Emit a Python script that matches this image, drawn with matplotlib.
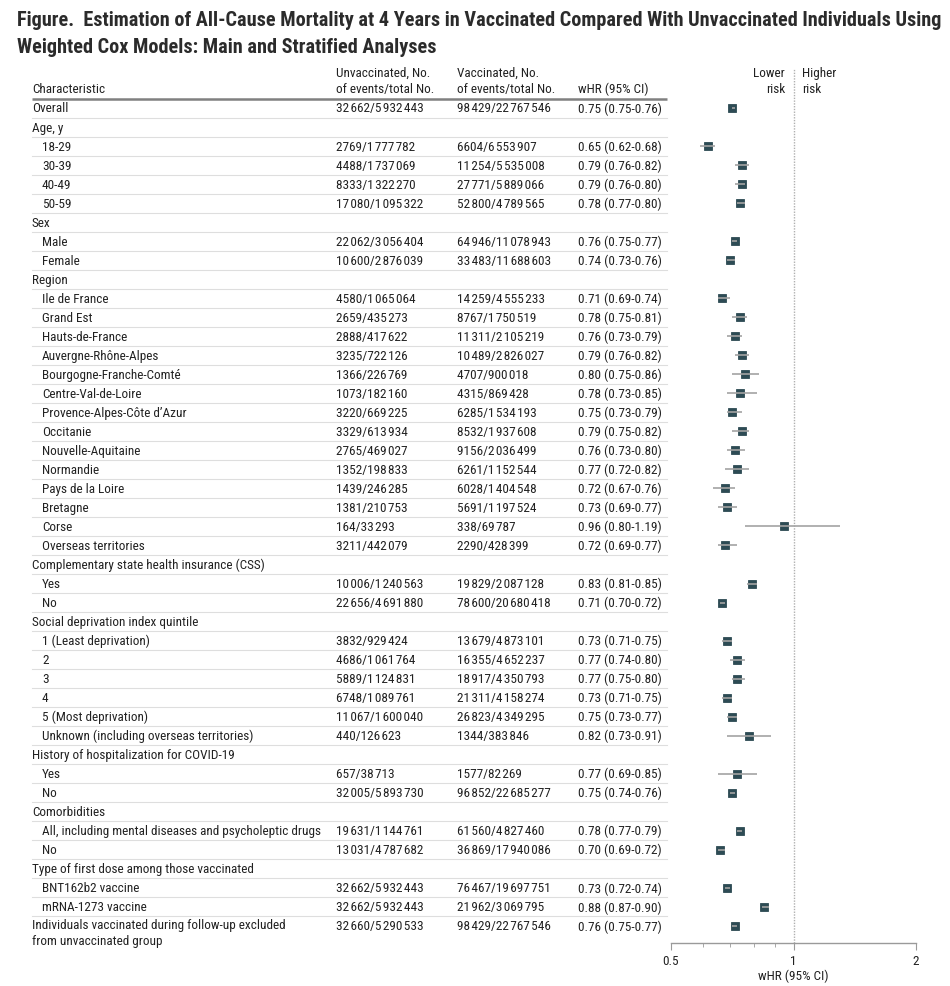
import matplotlib
matplotlib.use("Agg")
import matplotlib.pyplot as plt
import matplotlib.transforms as mtransforms
from matplotlib import font_manager
from matplotlib.ticker import FixedLocator, NullFormatter

# ---- data -------------------------------------------------------------
labels = [
    "Overall", "Age, y", "18-29", "30-39", "40-49", "50-59",
    "Sex", "Male", "Female",
    "Region", "Ile de France", "Grand Est", "Hauts-de-France", "Auvergne-Rhône-Alpes",
    "Bourgogne-Franche-Comté", "Centre-Val-de-Loire", "Provence-Alpes-Côte d’Azur",
    "Occitanie", "Nouvelle-Aquitaine", "Normandie", "Pays de la Loire", "Bretagne",
    "Corse", "Overseas territories",
    "Complementary state health insurance (CSS)", "Yes", "No",
    "Social deprivation index quintile", "1 (Least deprivation)", "2", "3", "4",
    "5 (Most deprivation)", "Unknown (including overseas territories)",
    "History of hospitalization for COVID-19", "Yes", "No",
    "Comorbidities", "All, including mental diseases and psycholeptic drugs", "No",
    "Type of first dose among those vaccinated", "BNT162b2 vaccine", "mRNA-1273 vaccine",
    "Individuals vaccinated during follow-up excluded\nfrom unvaccinated group",
]
indented = [
    0, 0, 1, 1, 1, 1,
    0, 1, 1,
    0, 1, 1, 1, 1, 1, 1, 1, 1, 1, 1, 1, 1, 1, 1,
    0, 1, 1,
    0, 1, 1, 1, 1, 1, 1,
    0, 1, 1,
    0, 1, 1,
    0, 1, 1,
    0,
]
N = None
unvacc_events = [32662, N, 2769, 4488, 8333, 17080, N, 22062, 10600,
                 N, 4580, 2659, 2888, 3235, 1366, 1073, 3220, 3329, 2765, 1352, 1439, 1381, 164, 3211,
                 N, 10006, 22656, N, 3832, 4686, 5889, 6748, 11067, 440,
                 N, 657, 32005, N, 19631, 13031, N, 32662, 32662, 32660]
unvacc_total = [5932443, N, 1777782, 1737069, 1322270, 1095322, N, 3056404, 2876039,
                N, 1065064, 435273, 417622, 722126, 226769, 182160, 669225, 613934, 469027, 198833,
                246285, 210753, 33293, 442079,
                N, 1240563, 4691880, N, 929424, 1061764, 1124831, 1089761, 1600040, 126623,
                N, 38713, 5893730, N, 1144761, 4787682, N, 5932443, 5932443, 5290533]
vacc_events = [98429, N, 6604, 11254, 27771, 52800, N, 64946, 33483,
               N, 14259, 8767, 11311, 10489, 4707, 4315, 6285, 8532, 9156, 6261, 6028, 5691, 338, 2290,
               N, 19829, 78600, N, 13679, 16355, 18917, 21311, 26823, 1344,
               N, 1577, 96852, N, 61560, 36869, N, 76467, 21962, 98429]
vacc_total = [22767546, N, 6553907, 5535008, 5889066, 4789565, N, 11078943, 11688603,
              N, 4555233, 1750519, 2105219, 2826027, 900018, 869428, 1534193, 1937608, 2036499,
              1152544, 1404548, 1197524, 69787, 428399,
              N, 2087128, 20680418, N, 4873101, 4652237, 4350793, 4158274, 4349295, 383846,
              N, 82269, 22685277, N, 4827460, 17940086, N, 19697751, 3069795, 22767546]
hr = [0.75, N, 0.65, 0.79, 0.79, 0.78, N, 0.76, 0.74,
      N, 0.71, 0.78, 0.76, 0.79, 0.80, 0.78, 0.75, 0.79, 0.76, 0.77, 0.72, 0.73, 0.96, 0.72,
      N, 0.83, 0.71, N, 0.73, 0.77, 0.77, 0.73, 0.75, 0.82,
      N, 0.77, 0.75, N, 0.78, 0.70, N, 0.73, 0.88, 0.76]
ci_low = [0.75, N, 0.62, 0.76, 0.76, 0.77, N, 0.75, 0.73,
          N, 0.69, 0.75, 0.73, 0.76, 0.75, 0.73, 0.73, 0.75, 0.73, 0.72, 0.67, 0.69, 0.80, 0.69,
          N, 0.81, 0.70, N, 0.71, 0.74, 0.75, 0.71, 0.73, 0.73,
          N, 0.69, 0.74, N, 0.77, 0.69, N, 0.72, 0.87, 0.75]
ci_high = [0.76, N, 0.68, 0.82, 0.80, 0.80, N, 0.77, 0.76,
           N, 0.74, 0.81, 0.79, 0.82, 0.86, 0.85, 0.79, 0.82, 0.80, 0.82, 0.76, 0.77, 1.19, 0.77,
           N, 0.85, 0.72, N, 0.75, 0.80, 0.80, 0.75, 0.77, 0.91,
           N, 0.85, 0.76, N, 0.79, 0.72, N, 0.74, 0.90, 0.77]

col_headers = ["Characteristic", "Unvaccinated, No.\nof events/total No.",
               "Vaccinated, No.\nof events/total No.", "wHR (95% CI)"]
title = ("Figure.  Estimation of All-Cause Mortality at 4 Years in Vaccinated Compared With "
         "Unvaccinated Individuals Using\nWeighted Cox Models: Main and Stratified Analyses")

# ---- font -------------------------------------------------------------
avail = {f.name for f in font_manager.fontManager.ttflist}
narrow = None
for cand in ["Roboto Condensed", "Liberation Sans Narrow", "Open Sans Condensed",
             "Noto Sans Condensed", "DejaVu Sans Condensed"]:
    if cand in avail:
        narrow = cand
        break
families = ([narrow] if narrow else []) + ["Liberation Sans", "DejaVu Sans"]
plt.rcParams["font.family"] = families

TXT = "#222222"
MARK = "#2d4b54"
FS = 9.5


def fmt(n):
    # small gaps between digit groups, as in the journal figure
    s = str(n)
    if n < 10000:
        return s
    parts = []
    while len(s) > 3:
        parts.insert(0, s[-3:])
        s = s[:-3]
    parts.insert(0, s)
    return "\u200a".join(parts)


W, H = 950, 987
fig = plt.figure(figsize=(W / 100, H / 100), dpi=100)

# forest axes: pixel box x 671..916, y 100..944
ax_l, ax_r, ax_t, ax_b = 671, 916, 100, 944
row0, pitch = 109, 19.02
ax = fig.add_axes([ax_l / W, 1 - ax_b / H, (ax_r - ax_l) / W, (ax_b - ax_t) / H])
ax.set_xlim(0.5, 0.5 + (ax_r - ax_l) / 245)
ax.set_ylim((ax_b - row0) / pitch, (ax_t - row0) / pitch)
ax.axis("off")

# axis with log tick labels over same span
tax = fig.add_axes(ax.get_position())
tax.set_xscale("log")
tax.set_xlim(0.5, 2)
tax.patch.set_alpha(0)
tax.set_yticks([])
for s in ["top", "left", "right"]:
    tax.spines[s].set_visible(False)
tax.spines["bottom"].set_color("#9a9a9a")
tax.spines["bottom"].set_linewidth(1.0)
tax.xaxis.set_major_locator(FixedLocator([0.5, 1, 2]))
tax.xaxis.set_minor_locator(FixedLocator([0.6, 0.7, 0.8, 0.9]))
tax.xaxis.set_minor_formatter(NullFormatter())
tax.set_xticklabels(["0.5", "1", "2"])
tax.tick_params(axis="x", which="major", length=5, color="#9a9a9a", labelsize=FS,
                labelcolor=TXT, pad=3)
tax.tick_params(axis="x", which="minor", length=3, color="#9a9a9a")
tax.set_xlabel("wHR (95% CI)", fontsize=FS, color=TXT, labelpad=1)

# reference line at 1
ax.axvline(1.0, ymin=0, ymax=(ax_b - 70) / (ax_b - ax_t), color="#b0b0b0",
           lw=1.0, ls=(0, (1, 1)), clip_on=False, zorder=1)

# markers and CIs
for i, v in enumerate(hr):
    if v is None:
        continue
    ax.plot(v, i, marker="s", ms=6.4, color=MARK, mec=MARK, mew=0.6, zorder=2)
    ax.plot([ci_low[i], ci_high[i]], [i, i], color="#a3a3a3", lw=1.2,
            solid_capstyle="butt", zorder=3)

# table
tr = mtransforms.blended_transform_factory(fig.transFigure, ax.transData)
x_char, x_ind, x_unv, x_vac, x_hr = 32 / W, 42 / W, 336 / W, 457 / W, 578 / W
x_end = 667 / W
n = len(labels)
for i, lab in enumerate(labels):
    x0 = x_ind if indented[i] else x_char
    if "\n" in lab:
        fig.text(x0, i - 0.42, lab, transform=tr, fontsize=FS, color=TXT,
                 va="top", ha="left", linespacing=1.33)
    else:
        fig.text(x0, i, lab, transform=tr, fontsize=FS, color=TXT, va="center", ha="left")
    if hr[i] is not None:
        fig.text(x_unv, i, f"{fmt(unvacc_events[i])}/{fmt(unvacc_total[i])}",
                 transform=tr, fontsize=FS, color=TXT, va="center")
        fig.text(x_vac, i, f"{fmt(vacc_events[i])}/{fmt(vacc_total[i])}",
                 transform=tr, fontsize=FS, color=TXT, va="center")
        fig.text(x_hr, i, f"{hr[i]:.2f} ({ci_low[i]:.2f}-{ci_high[i]:.2f})",
                 transform=tr, fontsize=FS, color=TXT, va="center")
    if i < n - 1:
        ax.plot([x_char, x_end], [i + 0.5, i + 0.5], transform=tr, color="#dedede",
                lw=0.8, clip_on=False)

# header
hy = (93 - row0) / pitch
for x0, h in zip([x_char, x_unv, x_vac, x_hr], col_headers):
    fig.text(x0, hy, h, transform=tr, fontsize=FS, color=TXT, va="baseline", ha="left",
             linespacing=1.33)
fig.text(785 / W, hy, "Lower\nrisk", transform=tr, fontsize=FS, color=TXT,
         va="baseline", ha="right", multialignment="right", linespacing=1.33)
fig.text(802 / W, hy, "Higher\nrisk", transform=tr, fontsize=FS, color=TXT,
         va="baseline", ha="left", linespacing=1.33)
ax.plot([x_char, x_end], [(ax_t - row0) / pitch] * 2, transform=tr, color="#808080",
        lw=1.8, clip_on=False, solid_capstyle="butt")

# title
fig.text(17 / W, 1 - 11 / H, title, fontsize=14.6, fontweight="bold", color="#2b2b2b",
         va="top", ha="left", linespacing=1.55)

fig.savefig("out.png", dpi=100)
